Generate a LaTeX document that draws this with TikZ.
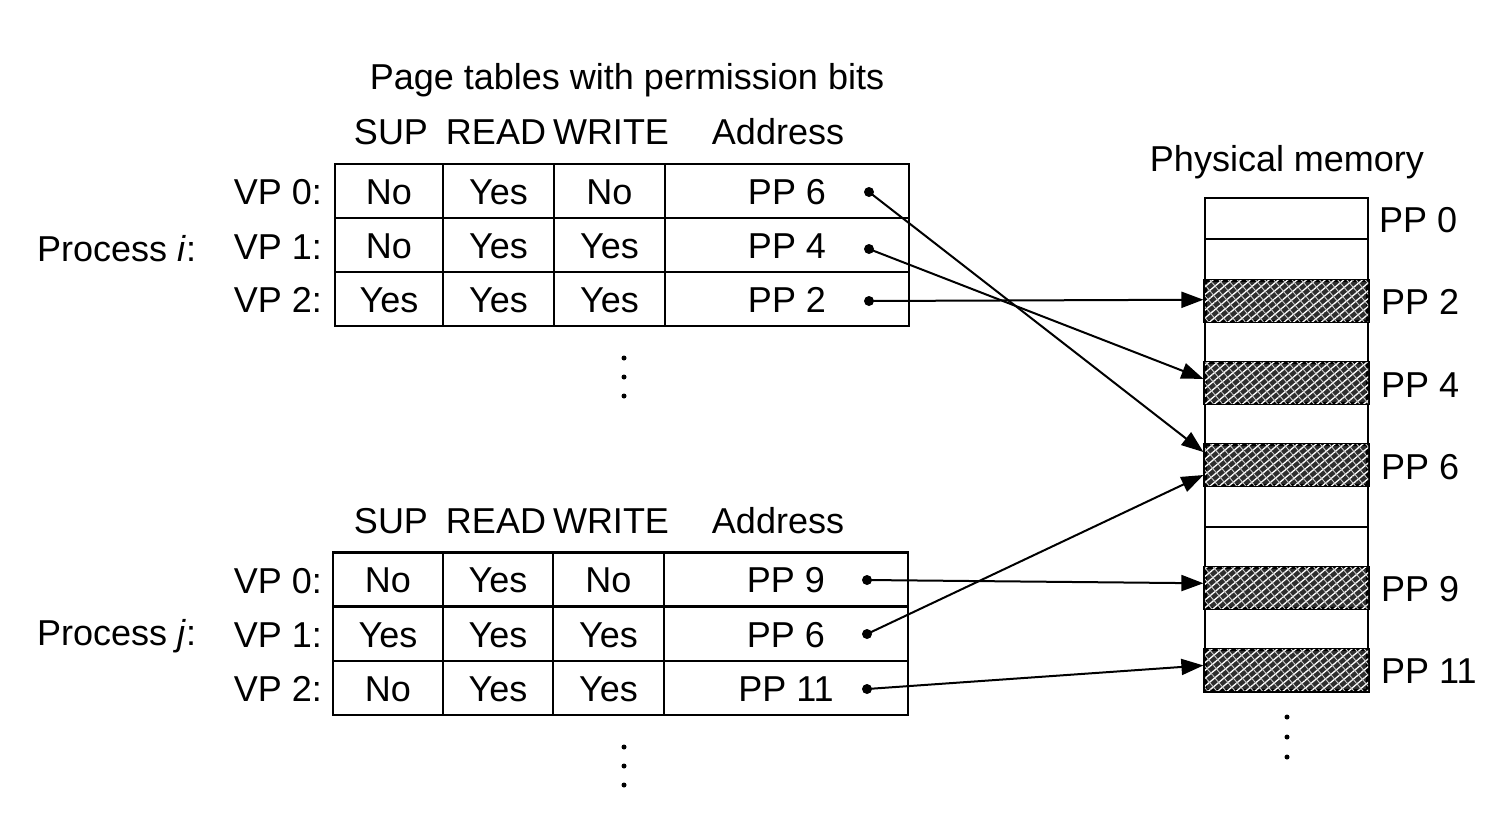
\documentclass[tikz,border=0pt]{standalone}
\usepackage{fontspec}
\setmainfont{Liberation Sans}
\usetikzlibrary{arrows.meta,patterns.meta,calc}
\begin{document}
\begin{tikzpicture}[x=1pt,y=-1pt,
  txt/.style={inner sep=0pt, text height=26pt, text depth=0pt, font=\fontsize{36}{40}\selectfont},
  cell/.style={txt, draw, line width=2.4pt, minimum height=54pt},
  slot/.style={draw, line width=1.8pt, minimum width=163pt, minimum height=41.08pt, inner sep=0pt},
  darkslot/.style={slot, line width=3.2pt, fill=black!82,
    postaction={pattern={Lines[angle=40,distance=6pt,line width=1.3pt]}, pattern color=white},
    postaction={pattern={Lines[angle=-50,distance=7pt,line width=0.9pt]}, pattern color=white!80!black}},
  dotn/.style={circle, fill, inner sep=0pt, minimum size=10pt},
  vdot/.style={circle, fill, inner sep=0pt, minimum size=5pt},
  arr/.style={line width=2pt, -{Triangle[length=22pt,width=16pt]}}
]
\useasboundingbox (0,0) rectangle (1506,820);
\fill[white] (0,0) rectangle (1506,820);

% titles and headers
\node[txt] (title) at (627,76) {Page tables with permission bits};
\node[txt] (hsupi) at (391,131) {SUP};
\node[txt] (hreadi) at (496,131) {READ};
\node[txt] (hwritei) at (611,131) {WRITE};
\node[txt] (haddri) at (778,131) {Address};
\node[txt] (hsupj) at (391,520) {SUP};
\node[txt] (hreadj) at (496,520) {READ};
\node[txt] (hwritej) at (611,520) {WRITE};
\node[txt] (haddrj) at (778,520) {Address};

% process labels
\node[txt, anchor=west] (proci) at (37,248) {Process \textit{i}:};
\node[txt, anchor=west] (procj) at (37,632) {Process \textit{j}:};
\node[txt, anchor=east] (vi0) at (322,191) {VP 0:};
\node[txt, anchor=east] (vi1) at (322,246) {VP 1:};
\node[txt, anchor=east] (vi2) at (322,299) {VP 2:};
\node[txt, anchor=east] (vj0) at (322,580) {VP 0:};
\node[txt, anchor=east] (vj1) at (322,634) {VP 1:};
\node[txt, anchor=east] (vj2) at (322,688) {VP 2:};

% table of process i
\node[cell, minimum width=108pt] (i00) at (389,191) {No};
\node[cell, minimum width=111pt] (i01) at (498.5,191) {Yes};
\node[cell, minimum width=111pt] (i02) at (609.5,191) {No};
\node[cell, minimum width=244pt] (i03) at (787,191) {PP 6};
\node[cell, minimum width=108pt] (i10) at (389,245) {No};
\node[cell, minimum width=111pt] (i11) at (498.5,245) {Yes};
\node[cell, minimum width=111pt] (i12) at (609.5,245) {Yes};
\node[cell, minimum width=244pt] (i13) at (787,245) {PP 4};
\node[cell, minimum width=108pt] (i20) at (389,299) {Yes};
\node[cell, minimum width=111pt] (i21) at (498.5,299) {Yes};
\node[cell, minimum width=111pt] (i22) at (609.5,299) {Yes};
\node[cell, minimum width=244pt] (i23) at (787,299) {PP 2};

% table of process j
\node[cell, minimum width=110pt] (j00) at (388,579.5) {No};
\node[cell, minimum width=110pt] (j01) at (498,579.5) {Yes};
\node[cell, minimum width=111pt] (j02) at (608.5,579.5) {No};
\node[cell, minimum width=244pt] (j03) at (786,579.5) {PP 9};
\node[cell, minimum width=110pt] (j10) at (388,634) {Yes};
\node[cell, minimum width=110pt] (j11) at (498,634) {Yes};
\node[cell, minimum width=111pt] (j12) at (608.5,634) {Yes};
\node[cell, minimum width=244pt] (j13) at (786,634) {PP 6};
\node[cell, minimum width=110pt] (j20) at (388,688) {No};
\node[cell, minimum width=110pt] (j21) at (498,688) {Yes};
\node[cell, minimum width=111pt] (j22) at (608.5,688) {Yes};
\node[cell, minimum width=244pt] (j23) at (786,688) {PP 11};

% continuation dots
\foreach \k in {0,1,2} {
  \node[vdot] (ci\k) at (624,358+19*\k) {};
  \node[vdot] (cj\k) at (624,747+19*\k) {};
  \node[vdot] (cm\k) at (1287,717+20*\k) {};
}

% physical memory
\node[txt] (pmtitle) at (1287,158) {Physical memory};
\foreach \k in {0,1,3,5,7,8,10} {
  \node[slot] (m\k) at (1286.5,{198+41.08*(\k+0.5)}) {};
}
\foreach \k in {2,4,6,9,11} {
  \node[darkslot] (m\k) at (1286.5,{198+41.08*(\k+0.5)}) {};
}
\node[txt, anchor=west] (l0) at (1379,219) {PP 0};
\node[txt, anchor=west] (l2) at (1381,301) {PP 2};
\node[txt, anchor=west] (l4) at (1381,384) {PP 4};
\node[txt, anchor=west] (l6) at (1381,466) {PP 6};
\node[txt, anchor=west] (l9) at (1381,588) {PP 9};
\node[txt, anchor=west] (l11) at (1381,670) {PP 11};

% pointer dots
\node[dotn] (di0) at (869,192) {};
\node[dotn] (di1) at (869,249) {};
\node[dotn] (di2) at (869,301) {};
\node[dotn] (dj0) at (867,580) {};
\node[dotn] (dj1) at (867,634) {};
\node[dotn] (dj2) at (867,689) {};

% arrows
\draw[arr] (di0.center) -- ([yshift=13pt]m6.west);
\draw[arr] (di1.center) -- ([yshift=4pt]m4.west);
\draw[arr] (di2.center) -- ([yshift=1pt]m2.west);
\draw[arr] (dj0.center) -- ([yshift=5pt]m9.west);
\draw[arr] (dj1.center) -- ([yshift=-10pt]m6.west);
\draw[arr] (dj2.center) -- ([yshift=5pt]m11.west);
\end{tikzpicture}
\end{document}
